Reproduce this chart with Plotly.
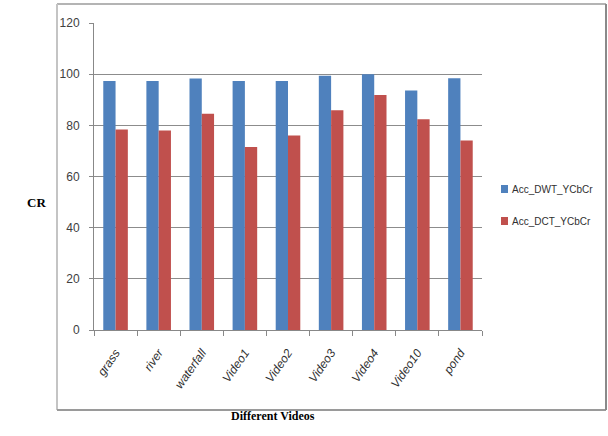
import plotly.graph_objects as go

# Compression ratio per test video for the two transform pipelines
videos = ["grass", "river", "waterfall", "Video1", "Video2", "Video3", "Video4", "Video10", "pond"]
acc_dwt_ycbcr = [97.3, 97.3, 98.3, 97.3, 97.3, 99.4, 100.0, 93.6, 98.4]
acc_dct_ycbcr = [78.4, 78.0, 84.5, 71.5, 76.0, 85.9, 91.9, 82.4, 74.1]
series_names = ["Acc_DWT_YCbCr", "Acc_DCT_YCbCr"]
series_colors = ["#4F81BD", "#C0504D"]
y_ticks = [0, 20, 40, 60, 80, 100, 120]

W, H = 608, 436
L, R, T, B = 94, 482, 23, 330  # plot area in pixels


def px(x):
    return (x - L) / (R - L)


def py(y):
    return (B - y) / (B - T)


fig = go.Figure()
for name, vals, col in zip(series_names, [acc_dwt_ycbcr, acc_dct_ycbcr], series_colors):
    fig.add_trace(go.Bar(name=name, x=videos, y=vals,
                         marker=dict(color=col, line=dict(width=0))))

# Legend drawn by hand: small colour squares with labels beside them
legend_shapes, legend_notes = [], []
for i, (name, col) in enumerate(zip(series_names, series_colors)):
    yc = 189 + 32 * i
    legend_shapes.append(dict(type="rect", xref="paper", yref="paper",
                              x0=px(501), x1=px(508), y0=py(yc + 4), y1=py(yc - 4),
                              fillcolor=col, line=dict(width=0)))
    legend_notes.append(dict(text=name, x=px(510), y=py(yc), xref="paper", yref="paper",
                             xanchor="left", yanchor="middle", showarrow=False,
                             font=dict(family="Liberation Sans", size=10, color="#303030")))

# Outer chart frame: lighter on the top/left, darker on the bottom/right
frame = [
    ((57, 4), (606, 4), "#b4b4b4"),
    ((57, 4), (57, 410), "#c4c4c4"),
    ((57, 410), (606, 410), "#9a9a9a"),
    ((606, 4), (606, 410), "#8a8a8a"),
]
frame_shapes = [dict(type="line", xref="paper", yref="paper", x0=px(a[0]), y0=py(a[1]),
                     x1=px(b[0]), y1=py(b[1]), line=dict(color=c, width=2))
                for a, b, c in frame]

fig.update_layout(
    width=W, height=H,
    margin=dict(l=L, r=W - R, t=T, b=H - B, autoexpand=False),
    paper_bgcolor="white", plot_bgcolor="white",
    barmode="group", bargap=0.43, bargroupgap=0,
    showlegend=False,
    font=dict(family="Liberation Sans", size=11, color="#404040"),
    xaxis=dict(type="category", showgrid=False, showline=True, linecolor="#888888", linewidth=1,
               ticks="outside", tickson="boundaries", ticklen=5, tickcolor="#888888",
               tickangle=-55, ticklabelstandoff=10,
               tickfont=dict(size=12, style="italic", color="#303030")),
    yaxis=dict(range=[0, 120], tickvals=y_ticks, showgrid=True, gridcolor="#8c8c8c", gridwidth=1,
               showline=True, linecolor="#888888", linewidth=1, ticks="outside", ticklen=4,
               tickcolor="#888888", zeroline=False, ticklabelstandoff=7,
               tickfont=dict(size=12, color="#404040")),
    annotations=[
        dict(text="<b>CR</b>", x=px(25), y=py(202), xref="paper", yref="paper", showarrow=False,
             font=dict(family="Liberation Serif", size=13, color="black")),
        dict(text="<b>Different Videos</b>", x=px(273), y=py(425), xref="paper", yref="paper",
             showarrow=False, font=dict(family="Liberation Serif", size=12, color="black")),
    ] + legend_notes,
    shapes=frame_shapes + legend_shapes,
)

fig.write_html("out.html")
